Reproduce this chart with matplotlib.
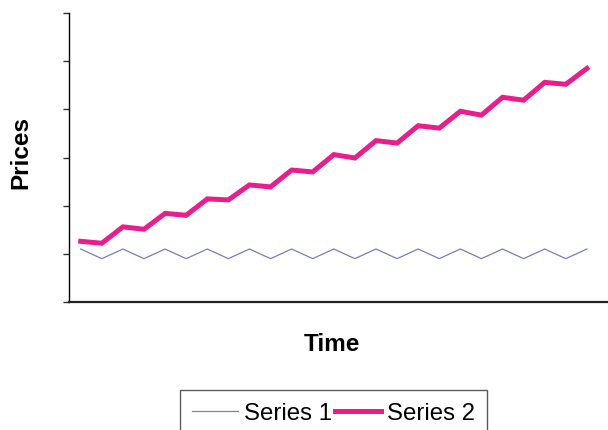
import matplotlib.pyplot as plt

# ── DATA ──────────────────────────────────────────────────────────────────────
periods  = list(range(25))
series_1 = [1.1, 0.9] * 12 + [1.1]
series_2 = [1.26, 1.22, 1.56, 1.51, 1.84, 1.80, 2.14, 2.12, 2.43, 2.39,
            2.74, 2.70, 3.06, 2.99, 3.35, 3.30, 3.66, 3.61, 3.96, 3.88,
            4.25, 4.19, 4.56, 4.52, 4.85]
labels   = ["Series 1", "Series 2"]

plt.rcParams['font.family'] = ['Liberation Sans', 'DejaVu Sans']

# ── PLOT ──────────────────────────────────────────────────────────────────────
fig = plt.figure(figsize=(6.08, 4.31), dpi=100)
ax = fig.add_axes([0.1135, 0.297, 0.8865, 0.6705])

ax.plot(periods, series_1, color="#7b7bc2", lw=0.9, label=labels[0])
ax.plot(periods, series_2, color="#e91e8c", lw=3.6, label=labels[1],
        solid_joinstyle="miter")

ax.set_xlim(-0.555, 25.0)
ax.set_ylim(0, 6)
ax.set_yticks(range(7))
ax.set_yticklabels([])
ax.set_xticks([])
ax.tick_params(axis="y", direction="out", length=4.5, width=1, color="#333333")

for side in ("top", "right"):
    ax.spines[side].set_visible(False)
ax.spines["left"].set_linewidth(1.0)
ax.spines["bottom"].set_linewidth(1.6)
ax.spines["bottom"].set_color("#222222")

ax.set_ylabel("Prices", fontsize=17.5, fontweight="bold")
ax.yaxis.set_label_coords(-0.068, 0.52)
ax.set_xlabel("Time", fontsize=17.5, fontweight="bold")
ax.xaxis.set_label_coords(0.488, -0.105)

leg = fig.legend(loc="upper center", bbox_to_anchor=(0.5485, 0.0928), ncol=2,
                 fontsize=17.3, frameon=True, fancybox=False, borderaxespad=0,
                 handlelength=1.9, handletextpad=0.25, columnspacing=0.15,
                 borderpad=0.5)
leg.get_frame().set_edgecolor("#333333")
leg.get_frame().set_linewidth(1.0)

fig.savefig("out.png", dpi=100)
